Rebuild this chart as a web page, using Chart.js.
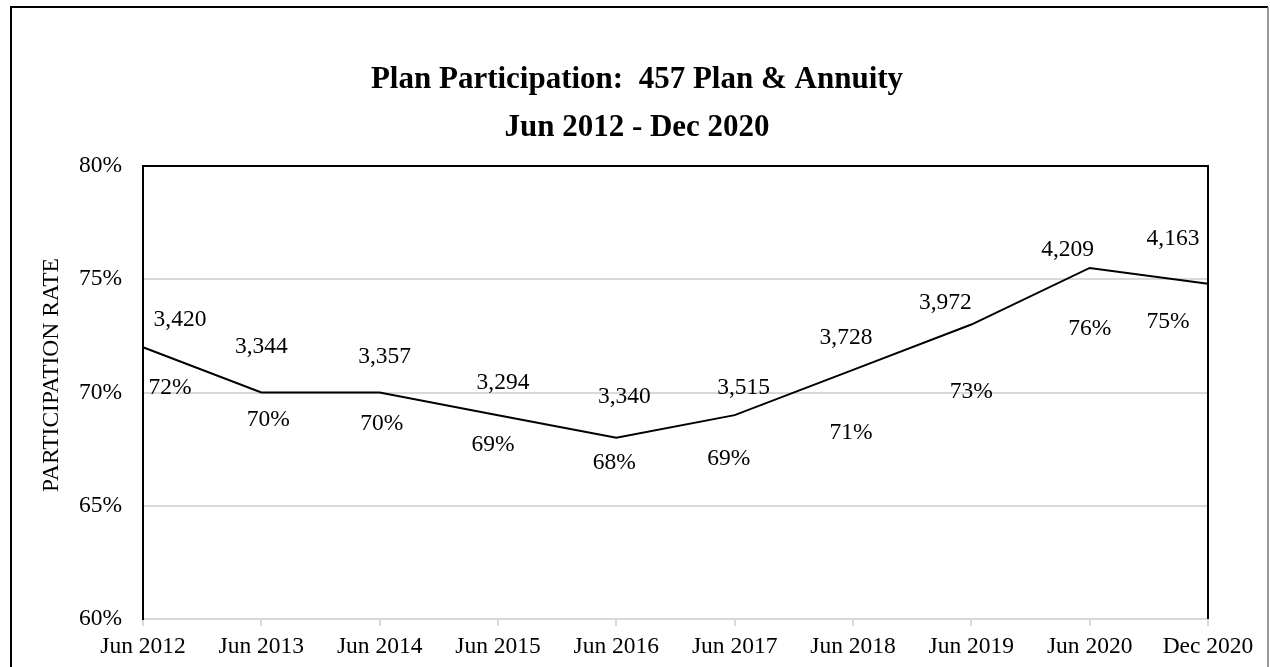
<!DOCTYPE html>
<html>
<head>
<meta charset="utf-8">
<script src="https://cdn.jsdelivr.net/npm/chart.js@4"></script>
<style>
  body { margin: 0; background: #fff; }
  #wrap { width: 1270px; height: 667px; }
</style>
</head>
<body>
<div id="wrap"><canvas id="chart" width="1270" height="667"></canvas></div>
<script>
const categories = ['Jun 2012', 'Jun 2013', 'Jun 2014', 'Jun 2015', 'Jun 2016',
                    'Jun 2017', 'Jun 2018', 'Jun 2019', 'Jun 2020', 'Dec 2020'];
const participationRate = [72, 70, 70, 69, 68, 69, 71, 73, 75.5, 74.8];
const participants = [3420, 3344, 3357, 3294, 3340, 3515, 3728, 3972, 4209, 4163];
const titleLines = ['Plan Participation:  457 Plan & Annuity', 'Jun 2012 - Dec 2020'];
const yAxisTitle = 'PARTICIPATION RATE';

// label nudges (px) to mimic the hand-placed labels
const countOffsetX = [37, 0, 5, 5, 8, 9, -7, -26, -22, -35];
const countOffsetY = [-27, -46, -36, -32, -41, -27, -32, -22, -18, -45];
const pctOffsetX = [27, 7, 2, -5, -2, -6, -2, 0, 0, -40];
const pctOffsetY = [41, 27, 31, 30, 25, 44, 63, 67, 61, 38];

const serif = '"Liberation Serif", "Times New Roman", serif';
const labelFont = '23.5px ' + serif;

const decorations = {
    id: 'decorations',
    afterDraw(chart) {
        const ctx = chart.ctx;
        const area = chart.chartArea;
        ctx.save();

        // outer frame
        ctx.lineWidth = 2;
        ctx.strokeStyle = '#000';
        ctx.beginPath();
        ctx.moveTo(11, 700); ctx.lineTo(11, 7); ctx.lineTo(1268, 7);
        ctx.stroke();
        ctx.strokeStyle = '#777';
        ctx.lineWidth = 1.5;
        ctx.beginPath();
        ctx.moveTo(1268, 7); ctx.lineTo(1268, 700);
        ctx.stroke();

        // plot box: top and right
        ctx.strokeStyle = '#000';
        ctx.lineWidth = 2;
        ctx.beginPath();
        ctx.moveTo(area.left, area.top); ctx.lineTo(area.right, area.top); ctx.lineTo(area.right, area.bottom);
        ctx.stroke();

        // title
        ctx.fillStyle = '#000';
        ctx.textAlign = 'center';
        ctx.textBaseline = 'middle';
        ctx.font = 'bold 31px ' + serif;
        ctx.fillText(titleLines[0], 637, 80);
        ctx.fillText(titleLines[1], 637, 128);

        // y axis title
        ctx.font = labelFont;
        ctx.save();
        ctx.translate(52, 375);
        ctx.rotate(-Math.PI / 2);
        ctx.fillText(yAxisTitle, 0, 0);
        ctx.restore();

        // data labels
        const meta = chart.getDatasetMeta(0);
        meta.data.forEach((pt, i) => {
            ctx.fillText(participants[i].toLocaleString('en-US'), pt.x + countOffsetX[i], pt.y + countOffsetY[i]);
            ctx.fillText(Math.round(participationRate[i]) + '%', pt.x + pctOffsetX[i], pt.y + pctOffsetY[i]);
        });
        ctx.restore();
    }
};

new Chart(document.getElementById('chart'), {
    type: 'line',
    data: {
        labels: categories,
        datasets: [{
            data: participationRate,
            borderColor: '#000',
            borderWidth: 2,
            pointRadius: 0,
            tension: 0,
            fill: false
        }]
    },
    options: {
        responsive: false,
        animation: false,
        layout: { padding: { top: 166, right: 62, left: 0, bottom: 0 } },
        plugins: {
            legend: { display: false },
            title: { display: false },
            tooltip: { enabled: false }
        },
        scales: {
            x: {
                offset: false,
                grid: { display: true, drawOnChartArea: false, color: '#d9d9d9', lineWidth: 2, tickLength: 7 },
                border: { color: '#d9d9d9', width: 2 },
                ticks: { color: '#000', font: { family: serif, size: 23.5 }, padding: 7, maxRotation: 0, autoSkip: false },
                afterFit(scale) { scale.height = 48; }
            },
            y: {
                min: 60,
                max: 80,
                grid: { color: '#d9d9d9', lineWidth: 2, drawTicks: false },
                border: { color: '#000', width: 2 },
                ticks: {
                    stepSize: 5,
                    color: '#000',
                    padding: 21,
                    font: { family: serif, size: 23.5 },
                    callback: v => v + '%'
                },
                afterFit(scale) { scale.width = 143; }
            }
        }
    },
    plugins: [decorations]
});
</script>
</body>
</html>
